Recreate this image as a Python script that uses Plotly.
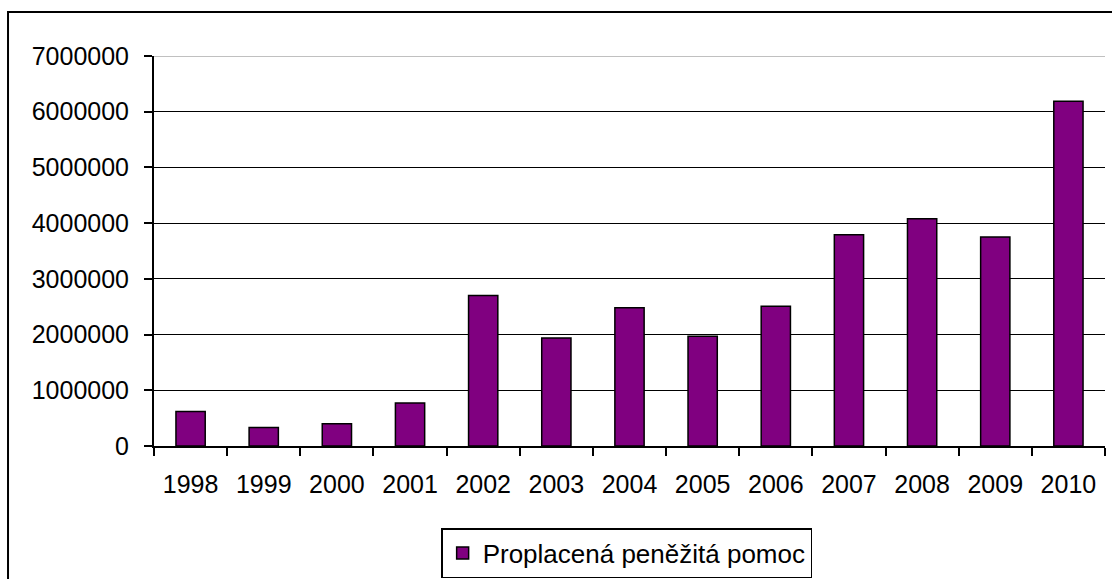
import plotly.graph_objects as go

years = ["1998", "1999", "2000", "2001", "2002", "2003", "2004",
         "2005", "2006", "2007", "2008", "2009", "2010"]
values = [620000, 330000, 400000, 770000, 2700000, 1940000, 2480000,
          1970000, 2510000, 3790000, 4080000, 3750000, 6190000]
series_name = "Proplacená peněžitá pomoc"
y_ticks = [0, 1000000, 2000000, 3000000, 4000000, 5000000, 6000000, 7000000]

FONT = "Liberation Sans, Arial, sans-serif"

fig = go.Figure()
fig.add_trace(go.Bar(
    x=years, y=values, name=series_name,
    marker=dict(color="#800080", line=dict(color="black", width=1.5)),
    width=0.4, showlegend=True,
))

fig.update_layout(
    width=1112, height=579,
    margin=dict(l=154, r=7, t=56, b=133),
    paper_bgcolor="white", plot_bgcolor="white",
    font=dict(family=FONT, size=25, color="black"),
    showlegend=True,
    legend=dict(
        orientation="h", x=0.497, xanchor="center",
        yref="container", y=1 - 528 / 579, yanchor="top",
        bordercolor="black", borderwidth=1.5, bgcolor="white",
        font=dict(family=FONT, size=26, color="black"),
        itemwidth=30,
    ),
    xaxis=dict(
        type="category", range=[-0.5, 12.5],
        showline=True, linecolor="black", linewidth=2,
        ticks="outside", tickson="boundaries", ticklen=8, tickcolor="black", tickwidth=2,
        showgrid=False, ticklabelstandoff=15, automargin=False,
        tickfont=dict(family=FONT, size=25, color="black"),
    ),
    yaxis=dict(
        range=[0, 7000000], tickvals=y_ticks, tickformat="d",
        showline=True, linecolor="black", linewidth=2,
        ticks="outside", ticklen=8, tickcolor="black", tickwidth=2,
        showgrid=True, gridcolor="black", gridwidth=1.3,
        zeroline=False, ticklabelstandoff=10, automargin=False,
        tickfont=dict(family=FONT, size=25, color="black"),
    ),
    bargap=0.6,
    shapes=[
        dict(type="line", xref="paper", yref="y", x0=0, x1=1, y0=7000000, y1=7000000,
             line=dict(color="#c0c0c0", width=2), layer="above"),
        dict(type="rect", xref="paper", yref="paper",
             x0=-0.1535, x1=1.05, y0=-0.6, y1=1.1128,
             line=dict(color="black", width=2), fillcolor="rgba(0,0,0,0)", layer="above"),
    ],
)

fig.write_html(
    "out.html",
    config={"displayModeBar": False},
    post_script="document.body.style.margin='0';document.body.style.overflow='hidden';",
)
